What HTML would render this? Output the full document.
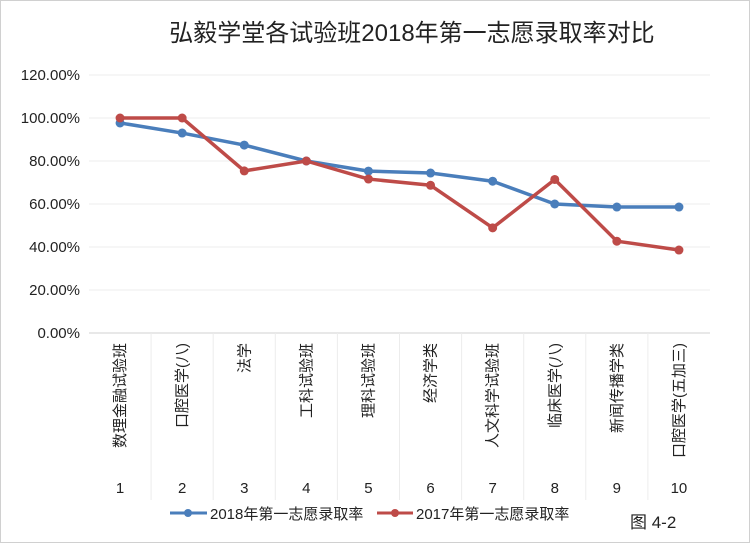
<!DOCTYPE html>
<html><head><meta charset="utf-8"><style>
body{margin:0;background:#fff;}
svg{display:block;font-family:"Liberation Sans","Noto Sans CJK SC",sans-serif;}
</style></head><body>
<svg id="chart" width="750" height="548" viewBox="0 0 750 548" xmlns="http://www.w3.org/2000/svg">
<rect x="0.5" y="0.5" width="749" height="542" fill="#fff" stroke="#d0d0d0"/>
<text x="412" y="41" text-anchor="middle" font-size="24" fill="#222">弘毅学堂各试验班2018年第一志愿录取率对比</text>
<g id="grid"></g><g id="yt"></g><g id="xl"></g><g id="series"></g>
<g>
<g>
<line x1="170" y1="513" x2="207" y2="513" stroke="#4a7ebb" stroke-width="3"/><circle cx="188" cy="513" r="4" fill="#4a7ebb"/>
<text x="210" y="519" font-size="15" fill="#222">2018年第一志愿录取率</text></g>
<g>
<line x1="377" y1="513" x2="413" y2="513" stroke="#be4b48" stroke-width="3"/><circle cx="395" cy="513" r="4" fill="#be4b48"/>
<text x="416" y="519" font-size="15" fill="#222">2017年第一志愿录取率</text></g>
</g>
<text x="630" y="528" font-size="17" fill="#222">图 4-2</text>
</svg>
<script>
const categories=["数理金融试验班","口腔医学(八)","法学","工科试验班","理科试验班","经济学类","人文科学试验班","临床医学(八)","新闻传播学类","口腔医学(五加三)"];
const catNumbers=["1","2","3","4","5","6","7","8","9","10"];
const s2018=[97.7,93,87.4,80,75.3,74.4,70.6,60,58.6,58.6];
const s2017=[100,100,75.4,80,71.6,68.7,48.9,71.4,42.7,38.6];
const yTicks=[0,20,40,60,80,100,120];
const yTickLabels=["0.00%","20.00%","40.00%","60.00%","80.00%","100.00%","120.00%"];
const NS="http://www.w3.org/2000/svg";
const L=89,R=710,T=75,B=333;
const step=(R-L)/categories.length;
const xS=i=>L+step*(i+0.5);
const yS=v=>B-(v/120)*(B-T);
function mk(t,a,p){const e=document.createElementNS(NS,t);for(const k in a)e.setAttribute(k,a[k]);p.appendChild(e);return e;}
const grid=document.getElementById('grid'),yt=document.getElementById('yt'),xl=document.getElementById('xl'),ser=document.getElementById('series');
yTicks.forEach((v,i)=>{
 const g=mk('line',{x1:L,x2:R,y1:yS(v),y2:yS(v),stroke:v===0?'#d0d0d0':'#ececec','stroke-width':1},grid);
 
 
 const t=mk('text',{x:80,y:yS(v)+5,'text-anchor':'end','font-size':15,fill:'#222'},yt);
 t.textContent=yTickLabels[i];
 
 
});
for(let i=1;i<categories.length;i++){
 const l=mk('line',{x1:L+step*i,x2:L+step*i,y1:B,y2:500,stroke:'#ececec','stroke-width':1},grid);
 
 
}
categories.forEach((c,i)=>{
 const x=xS(i);
 const t=mk('text',{transform:`translate(${x+5},343) rotate(-90)`,'text-anchor':'end','font-size':15,fill:'#222'},xl);
 t.textContent=c;
 
 
 const n=mk('text',{x:x,y:493,'text-anchor':'middle','font-size':15,fill:'#222'},xl);
 n.textContent=catNumbers[i];
 
 
});
function draw(data,color,name){
 const p=mk('polyline',{points:data.map((v,i)=>xS(i)+','+yS(v)).join(' '),fill:'none',stroke:color,'stroke-width':3.5,'stroke-linejoin':'round'},ser);
 
 
 data.forEach((v,i)=>{
  const c=mk('circle',{cx:xS(i),cy:yS(v),r:4.5,fill:color},ser);
  
  
 });
}
draw(s2018,'#4a7ebb','series-2018');
draw(s2017,'#be4b48','series-2017');
</script>
</body></html>
